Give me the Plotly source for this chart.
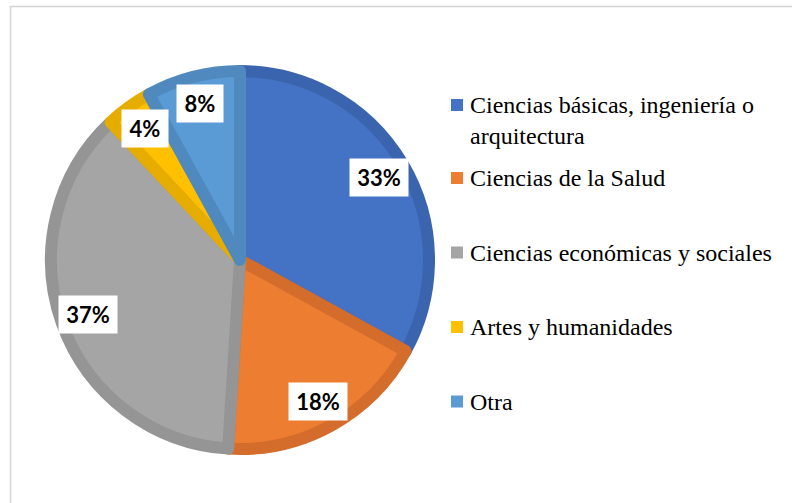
import math
import plotly.graph_objects as go

# ---- data ----
categories = [
    "Ciencias básicas, ingeniería o<br>arquitectura",
    "Ciencias de la Salud",
    "Ciencias económicas y sociales",
    "Artes y humanidades",
    "Otra",
]
values = [33, 18, 37, 4, 8]
fill_colors = ["#4472C4", "#ED7D31", "#A5A5A5", "#FFC000", "#5B9BD5"]
edge_colors = ["#3B64AE", "#D46D2B", "#959595", "#E6AC00", "#4F89BE"]

W, H = 792, 503
cx, cy, R = 240.0, 260.0, 189.0   # pie centre and radius (pixels)
stroke = 12
label_r = 162.0

def px(x):
    return x / W

def py(y):
    return 1 - y / H

fig = go.Figure()
fig.add_trace(go.Pie(
    labels=[c.replace("<br>", " ") for c in categories],
    values=values,
    sort=False,
    direction="clockwise",
    rotation=0,
    marker=dict(colors=fill_colors, line=dict(color=edge_colors, width=stroke)),
    textinfo="none",
    hoverinfo="skip",
    showlegend=False,
    domain=dict(x=[px(cx - R), px(cx + R)], y=[py(cy + R), py(cy - R)]),
))

annotations = []
total = sum(values)
cum = 0
for v in values:
    mid = (cum + v / 2) / total * 2 * math.pi
    cum += v
    lx = cx + label_r * math.sin(mid)
    ly = cy - label_r * math.cos(mid)
    txt = f"{round(100 * v / total)}%"
    annotations.append(dict(
        x=px(lx), y=py(ly), xref="paper", yref="paper",
        text=f"<b>{txt}</b>", showarrow=False,
        font=dict(family="Lato, Open Sans, sans-serif", size=22, color="#000000"),
        bgcolor="#FFFFFF", borderpad=5, width=12 * len(txt) + 12, height=27,
        xanchor="center", yanchor="middle",
    ))

# ---- legend (manual, Excel-like spacing) ----
shapes = []
legend_x_sq = 451
legend_x_txt = 468
row_first_line = [105]
for i in range(1, len(categories)):
    row_first_line.append(178 + (i - 1) * 74.5)
for i, (cat, col) in enumerate(zip(categories, fill_colors)):
    y0 = row_first_line[i]
    shapes.append(dict(
        type="rect", xref="paper", yref="paper",
        x0=px(legend_x_sq), x1=px(legend_x_sq + 12),
        y0=py(y0 - 6), y1=py(y0 + 6),
        fillcolor=col, line=dict(width=0),
    ))
    annotations.append(dict(
        x=px(legend_x_txt), y=py(y0 - 15), xref="paper", yref="paper",
        text=cat, showarrow=False, align="left",
        xanchor="left", yanchor="top",
        font=dict(family="Liberation Serif", size=24, color="#000000"),
    ))

# chart frame
shapes.append(dict(
    type="rect", xref="paper", yref="paper",
    x0=px(10.5), y0=py(6.5), x1=1.05, y1=-0.05,
    line=dict(color="#D4D4D4", width=1.5), fillcolor="rgba(0,0,0,0)", layer="below",
))

fig.update_layout(
    width=W, height=H,
    margin=dict(l=0, r=0, t=0, b=0),
    paper_bgcolor="#FFFFFF", plot_bgcolor="#FFFFFF",
    annotations=annotations, shapes=shapes,
    showlegend=False,
)
fig.write_html(
    "out.html",
    config={"displayModeBar": False},
    post_script="document.body.style.margin='0';document.body.style.overflow='hidden';",
)
